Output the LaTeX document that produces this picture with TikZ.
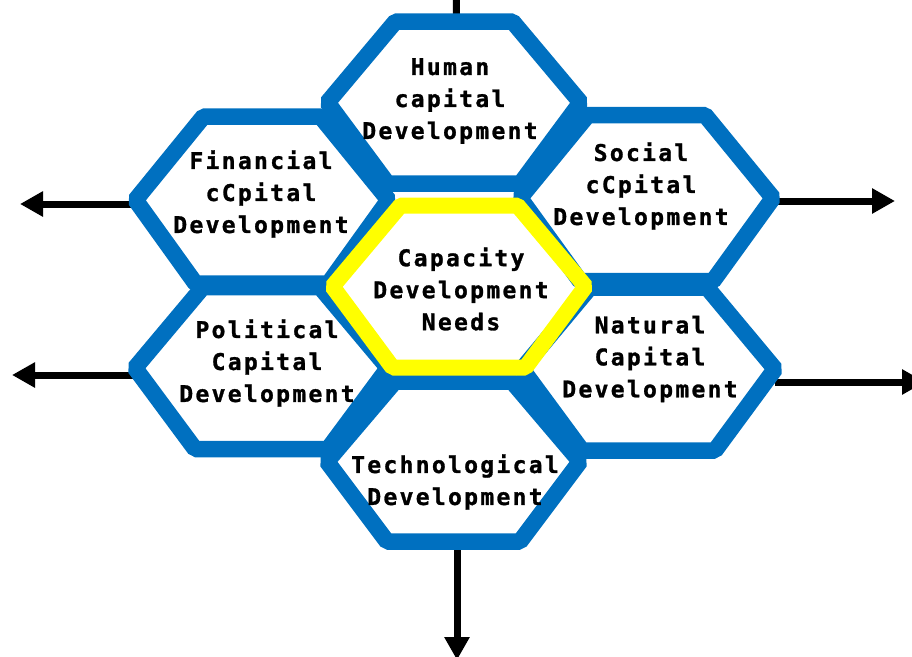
\documentclass[tikz,border=0pt]{standalone}
\usepackage{fontspec}
\newfontfamily\hexfont{DejaVu Sans Mono}[LetterSpace=10, FakeBold=1.2]
\definecolor{hexblue}{RGB}{0, 112, 192}
\definecolor{hexyellow}{RGB}{255, 255, 0}
\usetikzlibrary{arrows.meta}

\begin{document}
\begin{tikzpicture}[x=1pt, y=-1pt,
  hexcell/.style={rectangle, inner sep=0pt, outer sep=0pt, minimum width=253pt, minimum height=#1},
  hexcell/.default=162pt,
  hexline/.style={line width=16.5pt, line join=bevel, hexblue},
  capline/.style={line width=16pt, line join=bevel, hexyellow},
  hextext/.style={font=\hexfont\bfseries\fontsize{23}{32}\selectfont, align=center, inner sep=0pt},
  arr/.style={line width=7pt, -{Triangle[length=23pt, width=24pt]}}
]
  \useasboundingbox (0,0) rectangle (912,656);
  \clip (0,0) rectangle (912,656);

  % Cells
  \node[hexcell] (hum) at (454,102.5) {};
  \node[hexcell=167pt] (fin) at (262,200) {};
  \node[hexcell=166pt] (soc) at (646.5,198) {};
  \node[hexcell] (cap) at (459,286.5) {};
  \node[hexcell] (pol) at (261.5,368) {};
  \node[hexcell=163pt] (nat) at (648.5,369) {};
  \node[hexcell=160pt] (tec) at (453.5,461.5) {};

  % Outward arrows
  \coordinate (humT) at (456,-40);
  \coordinate (finL) at (20,204);
  \coordinate (socR) at (895,201);
  \coordinate (polL) at (12,375);
  \coordinate (natR) at (925,382);
  \coordinate (tecB) at (457,660);
  \draw[arr] ([xshift=2.5pt]hum.north) -- (humT);
  \draw[arr] ([yshift=-4pt]fin.west) -- (finL);
  \draw[arr] ([yshift=-3pt]soc.east) -- (socR);
  \draw[arr] ([yshift=-7pt]pol.west) -- (polL);
  \draw[arr] ([yshift=-13pt]nat.east) -- (natR);
  \draw[arr] ([xshift=3.5pt]tec.south) -- (tecB);

  % Hexagon outlines
  \foreach \n in {hum,fin,soc,pol,nat,tec}
    \draw[hexline] (\n.west) -- ([xshift=68pt]\n.north west) -- ([xshift=-68pt]\n.north east)
      -- (\n.east) -- ([xshift=-60pt]\n.south east) -- ([xshift=60pt]\n.south west) -- cycle;
  \draw[capline] (cap.west) -- ([xshift=68pt]cap.north west) -- ([xshift=-68pt]cap.north east)
    -- (cap.east) -- ([xshift=-60pt]cap.south east) -- ([xshift=60pt]cap.south west) -- cycle;

  % Labels
  \node[hextext] (hum-t) at (450,101) {Human\\capital\\Development};
  \node[hextext] (fin-t) at (261,194) {Financial\\cCpital\\Development};
  \node[hextext] (soc-t) at (641,186) {Social\\cCpital\\Development};
  \node[hextext] (cap-t) at (461,289) {Capacity\\Development\\Needs};
  \node[hextext] (pol-t) at (267,363) {Political\\Capital\\Development};
  \node[hextext] (nat-t) at (650,359) {Natural\\Capital\\Development};
  \node[hextext] (tec-t) at (455,482) {Technological\\Development};
\end{tikzpicture}
\end{document}
